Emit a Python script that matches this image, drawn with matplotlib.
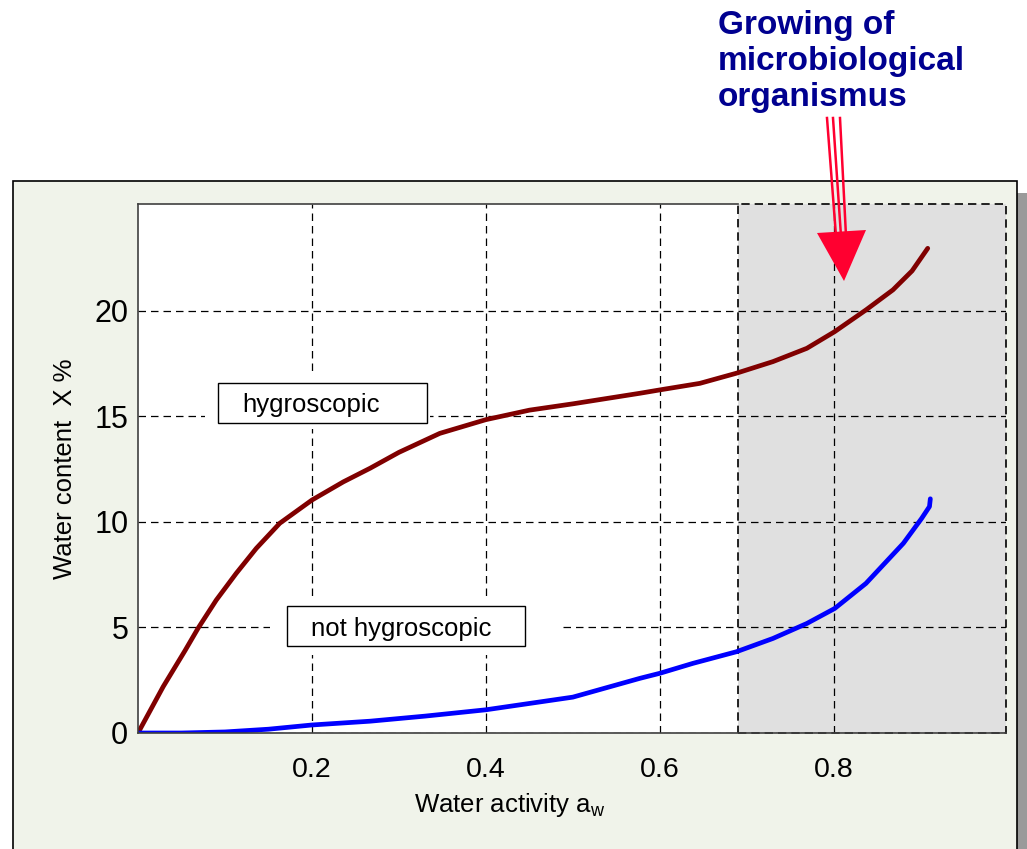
import numpy as np
import matplotlib
matplotlib.use("Agg")
import matplotlib.pyplot as plt
from matplotlib.patches import Rectangle, Polygon
from matplotlib.lines import Line2D

plt.rcParams['font.family'] = ['Liberation Sans', 'DejaVu Sans']

# water activity vs. water content
aw_hyg = [0.0, 0.029, 0.054, 0.069, 0.090, 0.113, 0.136, 0.163, 0.200, 0.236, 0.267,
          0.30, 0.347, 0.40, 0.45, 0.50, 0.577, 0.60, 0.646, 0.688, 0.730, 0.769,
          0.801, 0.837, 0.868, 0.890, 0.908]
x_hyg = [0.0, 2.2, 3.9, 4.96, 6.3, 7.57, 8.75, 9.94, 11.04, 11.9, 12.55,
         13.3, 14.2, 14.85, 15.3, 15.6, 16.1, 16.26, 16.57, 17.05, 17.6, 18.23,
         19.02, 20.05, 21.0, 21.9, 22.97]

aw_not = [0.0, 0.05, 0.10, 0.15, 0.20, 0.267, 0.33, 0.40, 0.50, 0.577, 0.60,
          0.638, 0.688, 0.730, 0.769, 0.801, 0.837, 0.880, 0.901, 0.910, 0.911]
x_not = [0.0, 0.0, 0.05, 0.18, 0.38, 0.56, 0.8, 1.1, 1.7, 2.59, 2.83,
         3.3, 3.85, 4.48, 5.19, 5.9, 7.09, 8.99, 10.17, 10.73, 11.1]

growth_start = 0.69
xticks = [0.2, 0.4, 0.6, 0.8]
yticks = [0, 5, 10, 15, 20]

W, H = 1027, 849
fig = plt.figure(figsize=(W / 100, H / 100), dpi=100)
fig.patch.set_facecolor('white')


def fx(px):
    return px / W


def fy(py):
    return 1 - py / H


# outer panel with shadow (drawn below the axes)
fig.add_artist(Rectangle((fx(1017), fy(860)), fx(10), fy(193) - fy(860),
                         transform=fig.transFigure, fc='#9a9a9a', ec='none', zorder=-2))
fig.add_artist(Rectangle((fx(13), fy(860)), fx(1004), fy(181) - fy(860),
                         transform=fig.transFigure, fc='#f0f3ea', ec='black', lw=1.2, zorder=-1))

ax = fig.add_axes([fx(138), fy(733), fx(1006) - fx(138), fy(204) - fy(733)])
ax.set_facecolor('white')
ax.set_xlim(0, 0.998)
ax.set_ylim(0, 25.07)

# shaded growth region
ax.add_patch(Rectangle((growth_start, 0), 0.998 - growth_start, 25.07,
                       fc='#e0e0e0', ec='black', lw=1.2, ls=(0, (5, 3)), zorder=0.2,
                       clip_on=False))

ax.set_axisbelow(True)
ax.grid(True, ls=(0, (6, 4)), color='black', lw=0.9)

ax.plot(aw_hyg, x_hyg, color='#800000', lw=3.4, solid_capstyle='round',
        solid_joinstyle='round', zorder=2)
ax.plot(aw_not, x_not, color='#0000ff', lw=3.4, solid_capstyle='round',
        solid_joinstyle='round', zorder=2)

ax.set_xticks(xticks)
ax.set_xticklabels([f'{v:.1f}' for v in xticks], fontsize=20.5)
ax.set_yticks(yticks)
ax.set_yticklabels([str(v) for v in yticks], fontsize=22)
ax.tick_params(axis='both', length=0)
ax.tick_params(axis='x', pad=17)
ax.tick_params(axis='y', pad=7)

for s in ['left', 'bottom', 'top']:
    ax.spines[s].set_color('#404040')
    ax.spines[s].set_linewidth(1.2)
ax.spines['top'].set_bounds(0, growth_start)
ax.spines['right'].set_visible(False)

ax.set_xlabel('Water activity a$_\\mathregular{w}$', fontsize=18.5)
ax.xaxis.set_label_coords(0.428, -0.11)
ax.set_ylabel('Water content  X %', fontsize=18.5)
ax.yaxis.set_label_coords(-0.070, 0.5)


def label_box(x0, x1, y0, y1, gx0, gx1, gy0, gy1, text, tx):
    ax.add_patch(Rectangle((gx0, gy0), gx1 - gx0, gy1 - gy0, fc='white', ec='none', zorder=2.5))
    ax.add_patch(Rectangle((x0, y0), x1 - x0, y1 - y0, fc='white', ec='black', lw=1.0, zorder=3))
    ax.text(tx, (y0 + y1) / 2 - 0.1, text, fontsize=18.5, ha='left', va='center', zorder=4)


label_box(0.092, 0.332, 14.7, 16.6, 0.077, 0.336, 14.4, 16.9, 'hygroscopic', 0.12)
label_box(0.171, 0.445, 4.1, 6.0, 0.152, 0.486, 3.7, 6.4, 'not hygroscopic', 0.199)

# annotation arrow
for (xa, xb) in [(827, 836), (833, 841), (840, 846)]:
    fig.add_artist(Line2D([fx(xa), fx(xb)], [fy(118), fy(236)], transform=fig.transFigure,
                          color='#ff0030', lw=1.8, zorder=5))
fig.add_artist(Polygon([[fx(817), fy(233)], [fx(866), fy(230)], [fx(844), fy(281)]],
                       closed=True, transform=fig.transFigure, fc='#ff0030', ec='none', zorder=5))

fig.text(fx(718), fy(10), 'Growing of\nmicrobiological\norganismus', fontsize=24,
         fontweight='bold', color='#000090', ha='left', va='top', linespacing=1.2)

fig.savefig('out.png', dpi=100)
